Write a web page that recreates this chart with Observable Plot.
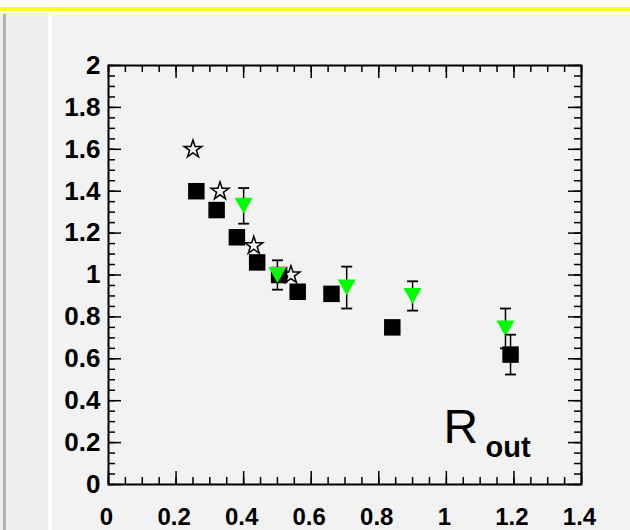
<!DOCTYPE html>
<html><head><meta charset="utf-8">
<script src="https://cdn.jsdelivr.net/npm/d3@7"></script>
<script src="https://cdn.jsdelivr.net/npm/@observablehq/plot@0.6"></script>
<style>
html,body{margin:0;padding:0;background:#fff;}
#wrap{position:relative;width:630px;height:530px;overflow:hidden;}
.bg{position:absolute;}
#chart{position:absolute;left:0;top:0;}
</style></head><body>
<div id="wrap">
<div class="bg" style="left:0;top:7px;width:630px;height:4px;background:#ffff22"></div>
<div class="bg" style="left:0;top:13px;width:48px;height:517px;background:#eeeeee"></div>
<div class="bg" style="left:3px;top:14px;width:3px;height:516px;background:#b0b0b0"></div>
<div class="bg" style="left:52px;top:15px;width:578px;height:515px;background:#f2f2f2"></div>
<div id="chart"></div>
</div>
<script>
// Tick labels
const xTicks = [0, 0.2, 0.4, 0.6, 0.8, 1, 1.2, 1.4];
const yTicks = [0, 0.2, 0.4, 0.6, 0.8, 1, 1.2, 1.4, 1.6, 1.8, 2];
const xMinor = d3.range(0, 1.4001, 0.05);
const yMinor = d3.range(0, 2.0001, 0.05);

// Series: open stars
const starX = [0.25, 0.33, 0.43, 0.54];
const starY = [1.60, 1.40, 1.14, 1.00];

// Series: black squares
const sqX = [0.26, 0.32, 0.38, 0.44, 0.505, 0.56, 0.66, 0.84, 1.19];
const sqY = [1.40, 1.31, 1.18, 1.06, 1.00, 0.92, 0.91, 0.75, 0.62];
const sqErr = [0, 0, 0, 0, 0, 0, 0, 0, 0.095];

// Series: green down triangles
const triX = [0.40, 0.50, 0.705, 0.90, 1.175];
const triY = [1.33, 1.00, 0.94, 0.90, 0.745];
const triErr = [0.085, 0.07, 0.10, 0.07, 0.095];

const stars = starX.map((x, i) => ({x, y: starY[i]}));
const squares = sqX.map((x, i) => ({x, y: sqY[i], e: sqErr[i]}));
const tris = triX.map((x, i) => ({x, y: triY[i], e: triErr[i]}));
const sqE = squares.filter(d => d.e > 0);

const W = 630, H = 530, ML = 108, MR = 49, MT = 65, MB = 46;
const IW = W - ML - MR, IH = H - MT - MB;
const MAJ = 13, MIN = 7;

const triDown = {draw(ctx, size) {
  const w = 18, h = 16;
  ctx.moveTo(-w / 2, -h / 2); ctx.lineTo(w / 2, -h / 2); ctx.lineTo(0, h / 2); ctx.closePath();
}};
const cap = {draw(ctx, size) { ctx.moveTo(-5.5, 0); ctx.lineTo(5.5, 0); }};

const tickStyle = {stroke: "black", strokeWidth: 1.5};

const chart = Plot.plot({
  width: W, height: H,
  marginLeft: ML, marginRight: MR, marginTop: MT, marginBottom: MB,
  style: {background: "transparent", fontFamily: "'Liberation Sans', Arial, sans-serif", overflow: "visible"},
  x: {domain: [0, 1.4], axis: null},
  y: {domain: [0, 2], axis: null},
  marks: [
    // minor & major ticks, inward on all four sides
    Plot.ruleX(xMinor, {x: d => d, insetTop: IH - MIN, ...tickStyle}),
    Plot.ruleX(xMinor, {x: d => d, insetBottom: IH - MIN, ...tickStyle}),
    Plot.ruleX(xTicks, {x: d => d, insetTop: IH - MAJ, ...tickStyle}),
    Plot.ruleX(xTicks, {x: d => d, insetBottom: IH - MAJ, ...tickStyle}),
    Plot.ruleY(yMinor, {y: d => d, insetRight: IW - MIN, ...tickStyle}),
    Plot.ruleY(yMinor, {y: d => d, insetLeft: IW - MIN, ...tickStyle}),
    Plot.ruleY(yTicks, {y: d => d, insetRight: IW - MAJ, ...tickStyle}),
    Plot.ruleY(yTicks, {y: d => d, insetLeft: IW - MAJ, ...tickStyle}),
    Plot.frame({stroke: "black", strokeWidth: 2}),
    Plot.axisX(xTicks, {tickSize: 0, tickPadding: 23, fontSize: 24, fontWeight: "bold", tickFormat: d => String(d), label: null, dx: -2}),
    Plot.axisY(yTicks, {tickSize: 0, tickPadding: 8, fontSize: 26, fontWeight: "bold", tickFormat: d => String(d), label: null}),
    // data
    Plot.dot(squares, {x: "x", y: "y", symbol: "square", r: 9.3, fill: "black"}),
    Plot.dot(stars, {x: "x", y: "y", symbol: "star", r: 5.6, fill: "none", stroke: "black", strokeWidth: 1.5}),
    Plot.ruleX(tris, {x: "x", y1: d => d.y - d.e, y2: d => d.y + d.e, stroke: "black", strokeWidth: 1.5}),
    Plot.dot(tris, {x: "x", y: d => d.y - d.e, symbol: cap, fill: "none", stroke: "black", strokeWidth: 1.8}),
    Plot.dot(tris, {x: "x", y: d => d.y + d.e, symbol: cap, fill: "none", stroke: "black", strokeWidth: 1.8}),
    Plot.dot(tris, {x: "x", y: "y", symbol: triDown, fill: "#00ff00"}),
    Plot.ruleX(sqE, {x: "x", y1: d => d.y - d.e, y2: d => d.y + d.e, stroke: "black", strokeWidth: 1.5}),
    Plot.dot(sqE, {x: "x", y: d => d.y - d.e, symbol: cap, fill: "none", stroke: "black", strokeWidth: 1.8}),
    Plot.dot(sqE, {x: "x", y: d => d.y + d.e, symbol: cap, fill: "none", stroke: "black", strokeWidth: 1.8}),
    // label
    Plot.text(["R"], {text: d => d, frameAnchor: "bottom-right", textAnchor: "start", lineAnchor: "bottom", dx: -138, dy: -42, fontSize: 48, fill: "black"}),
    Plot.text(["out"], {text: d => d, frameAnchor: "bottom-right", textAnchor: "start", lineAnchor: "bottom", dx: -96, dy: -28, fontSize: 29, fontWeight: "bold", fill: "black"})
  ]
});
document.getElementById("chart").appendChild(chart);
</script>
</body></html>
